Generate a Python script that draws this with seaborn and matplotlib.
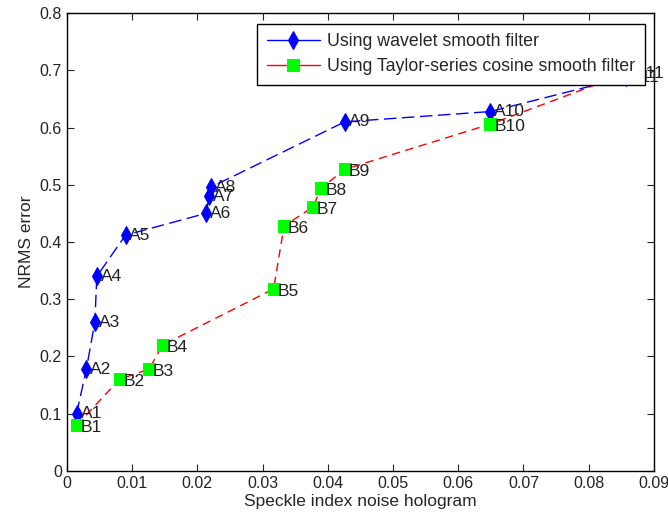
import matplotlib
matplotlib.use("Agg")
import matplotlib.pyplot as plt
import seaborn as sns
import pandas as pd

# series A: wavelet smooth filter
a_labels = ["A1", "A2", "A3", "A4", "A5", "A6", "A7", "A8", "A9", "A10", "A11"]
a_x = [0.0015, 0.0030, 0.0043, 0.0046, 0.0090, 0.0213, 0.0218, 0.0221, 0.0426, 0.0649, 0.0857]
a_y = [0.100, 0.178, 0.260, 0.340, 0.412, 0.450, 0.480, 0.496, 0.610, 0.628, 0.688]

# series B: Taylor-series cosine smooth filter
b_labels = ["B1", "B2", "B3", "B4", "B5", "B6", "B7", "B8", "B9", "B10", "B11"]
b_x = [0.0015, 0.0081, 0.0126, 0.0147, 0.0317, 0.0333, 0.0377, 0.0390, 0.0426, 0.0649, 0.0865]
b_y = [0.080, 0.160, 0.178, 0.220, 0.318, 0.428, 0.461, 0.494, 0.527, 0.606, 0.698]

sns.set_style("ticks")
plt.rcParams["font.family"] = ["Liberation Sans", "DejaVu Sans"]
plt.rcParams["xtick.direction"] = "in"
plt.rcParams["ytick.direction"] = "in"

df_a = pd.DataFrame({"x": a_x, "y": a_y})
df_b = pd.DataFrame({"x": b_x, "y": b_y})

fig = plt.figure(figsize=(6.68, 5.25), dpi=100)
ax = fig.add_axes([0.100, 0.103, 0.879, 0.872])

sns.lineplot(data=df_a, x="x", y="y", sort=False, ax=ax, color="#0000ff",
             linestyle=(0, (9, 4)), linewidth=1.0, marker="d", markersize=9,
             markerfacecolor="#0000ff", markeredgecolor="#0000ff",
             label="Using wavelet smooth filter")
sns.lineplot(data=df_b, x="x", y="y", sort=False, ax=ax, color="#ff0000",
             linestyle=(0, (6, 4)), linewidth=1.0, marker="s", markersize=9,
             markerfacecolor="#00ff00", markeredgecolor="#00ff00",
             label="Using Taylor-series cosine smooth filter")

for lab, x, y in zip(a_labels, a_x, a_y):
    ax.text(x + 0.0006, y, lab, fontsize=12.5, ha="left", va="center", color="#222222", clip_on=False, zorder=3)
for lab, x, y in zip(b_labels, b_x, b_y):
    ax.text(x + 0.0006, y - 0.004, lab, fontsize=12.5, ha="left", va="center", color="#222222", clip_on=False, zorder=3)

ax.set_xlim(0, 0.09)
ax.set_ylim(0, 0.8)
ax.set_xticks([0, 0.01, 0.02, 0.03, 0.04, 0.05, 0.06, 0.07, 0.08, 0.09])
ax.set_xticklabels(["0", "0.01", "0.02", "0.03", "0.04", "0.05", "0.06", "0.07", "0.08", "0.09"])
ax.set_yticks([0, 0.1, 0.2, 0.3, 0.4, 0.5, 0.6, 0.7, 0.8])
ax.set_yticklabels(["0", "0.1", "0.2", "0.3", "0.4", "0.5", "0.6", "0.7", "0.8"])
ax.tick_params(labelsize=11.5, top=True, right=True, length=5, colors="#222222")
for s in ax.spines.values():
    s.set_visible(True)
    s.set_color("black")
    s.set_linewidth(1.0)
ax.set_xlabel("Speckle index noise hologram", fontsize=12.5, labelpad=2)
ax.set_ylabel("NRMS error", fontsize=12.5)

leg = ax.legend(loc="upper right", bbox_to_anchor=(0.985, 0.977), fontsize=12.8,
                fancybox=False, framealpha=1, edgecolor="black", borderpad=0.55,
                handlelength=3.0, handletextpad=0.4, labelspacing=0.45,
                borderaxespad=0)
for h in leg.get_lines():
    h.set_linestyle("-")
leg.set_zorder(10)
leg.get_frame().set_linewidth(1.0)

fig.savefig("out.png", dpi=100)
